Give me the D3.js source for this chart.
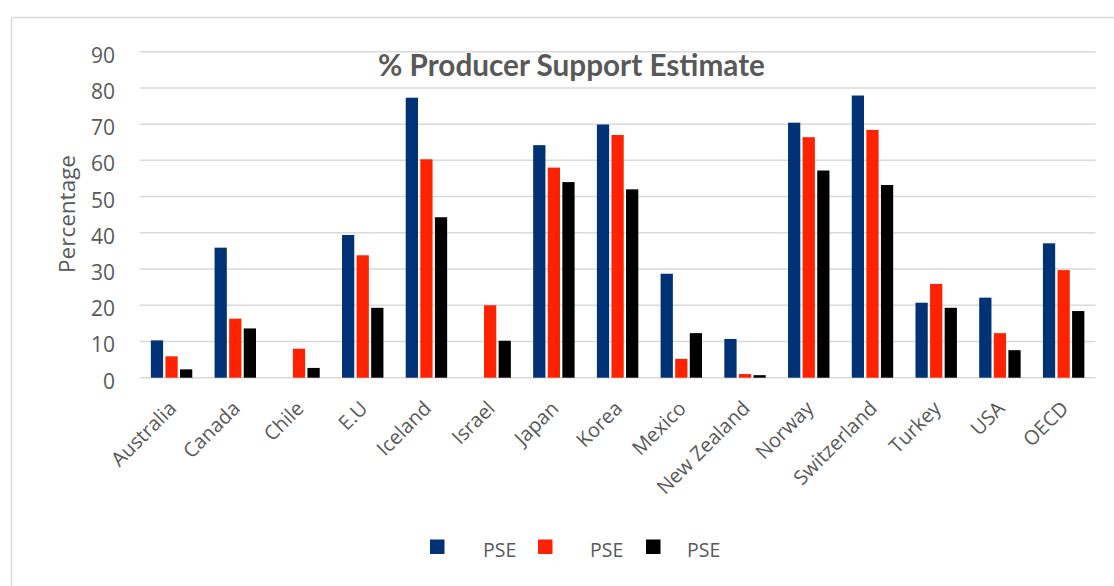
<!DOCTYPE html>
<html><head><meta charset="utf-8">
<script src="https://cdn.jsdelivr.net/npm/d3@7"></script>
<style>body{margin:0;background:#fff;}svg{display:block;font-family:"Open Sans",sans-serif;}</style>
</head><body><svg id="c" width="1114" height="586"></svg>
<script>
const categories = ["Australia","Canada","Chile","E.U","Iceland","Israel","Japan","Korea","Mexico","New Zealand","Norway","Switzerland","Turkey","USA","OECD"];
const seriesNames = ["PSE","PSE","PSE"];
const series1 = [10.3,35.9,null,39.4,77.3,null,64.2,69.9,28.7,10.7,70.4,77.9,20.7,22.1,37.1];
const series2 = [5.9,16.3,8.0,33.8,60.3,20.0,58.0,67.0,5.2,1.0,66.4,68.4,25.9,12.3,29.7];
const series3 = [2.3,13.6,2.7,19.3,44.3,10.2,54.0,52.0,12.3,0.7,57.2,53.2,19.3,7.6,18.4];
const yTicks = [0,10,20,30,40,50,60,70,80,90];
const colors = ["#003275","#ff2200","#000000"];
const chartTitle = "% Producer Support Estimate";
const yTitle = "Percentage";

(function(){
const svg = d3.select("#c");
svg.append("rect").attr("x",11.5).attr("y",17.5).attr("width",1120).attr("height",600)
  .attr("fill","#fff").attr("stroke","#d9d9d9").attr("stroke-width",1.5);

const pL=139.7, pR=1095.5, pT=51.7, pB=377.7;
const x = d3.scaleBand().domain(categories).range([pL,pR]).paddingInner(0.35).paddingOuter(0.175);
const xs = d3.scaleBand().domain([0,1,2]).range([0,x.bandwidth()]).paddingInner(0.16);
const y = d3.scaleLinear().domain([0,90]).range([pB,pT]);

svg.append("g").selectAll("line").data(yTicks).join("line")
  .attr("x1",pL).attr("x2",pR).attr("y1",d=>y(d)).attr("y2",d=>y(d))
  .attr("stroke","#d9d9d9").attr("stroke-width",1.5);

const yAxis = d3.axisLeft(y).tickValues(yTicks).tickSize(0).tickPadding(0);
const gy = svg.append("g").attr("transform",`translate(115,0)`).call(yAxis);
gy.select(".domain").remove();
gy.selectAll("text").attr("font-size",21).attr("fill","#595959").attr("font-family","Open Sans, sans-serif").attr("dy","0.5em");

const all = [series1,series2,series3];
all.forEach((s,si)=>{
  svg.append("g").selectAll("rect").data(categories.map((c,i)=>({c,v:s[i]})).filter(d=>d.v!=null))
    .join("rect")
    .attr("x",d=>x(d.c)+xs(si)).attr("width",xs.bandwidth())
    .attr("y",d=>y(d.v)).attr("height",d=>y(0)-y(d.v))
    .attr("fill",colors[si]);
});

const xAxis = d3.axisBottom(x).tickSize(0).tickPadding(0);
const gx = svg.append("g").attr("transform",`translate(0,${pB})`).call(xAxis);
gx.select(".domain").remove();
gx.selectAll("text").attr("font-size",20).attr("fill","#595959").attr("font-family","Open Sans, sans-serif")
  .attr("text-anchor","end").attr("dy",0)
  .attr("transform","translate(6,32) rotate(-45)");

const t = svg.append("text").attr("x",571.5).attr("y",76).attr("text-anchor","middle")
  .attr("font-size",20).attr("font-weight","bold").attr("font-family","Lato, sans-serif")
  .attr("fill","#595959").text(chartTitle);
const w = t.node().getComputedTextLength();
t.attr("font-size", 20*387/w);

svg.append("text").attr("transform","translate(75,214) rotate(-90)").attr("text-anchor","middle")
  .attr("font-size",22.5).attr("fill","#595959").text(yTitle);

const legX = [430,538,646], legT=[483,590,687];
seriesNames.forEach((n,i)=>{
  svg.append("rect").attr("x",legX[i]).attr("y",539.5).attr("width",14.5).attr("height",14.5).attr("fill",colors[i]);
  svg.append("text").attr("x",legT[i]).attr("y",556.5).attr("font-size",19.5).attr("fill","#595959").text(n);
});
})();
</script></body></html>
